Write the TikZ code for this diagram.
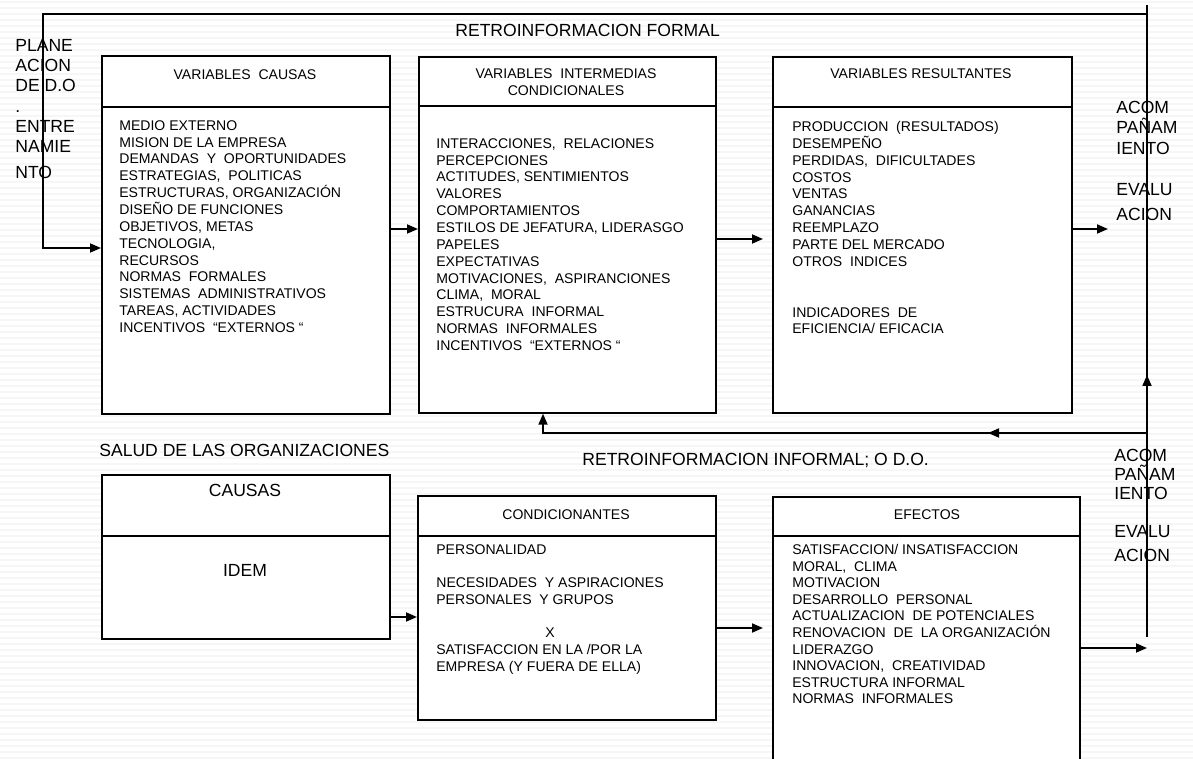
\documentclass[tikz,border=0pt]{standalone}
\usepackage{fontspec}
\setmainfont{Liberation Sans}
\usetikzlibrary{arrows.meta}

\tikzset{
  caja/.style={draw, fill=white, line width=1pt, anchor=north west, inner sep=0pt},
  titulo/.style={font=\fontsize{8}{9.6}\selectfont, align=center, inner sep=0pt},
  lista/.style={font=\fontsize{8}{9.6}\selectfont, align=left, anchor=north west, inner sep=0pt},
  rotulo/.style={font=\fontsize{10}{11.5}\selectfont, align=left, inner sep=0pt},
  flecha/.style={line width=1pt, -{Triangle[length=2.2mm,width=1.8mm]}},
  linea/.style={line width=1pt},
  raya/.style={gray!7, line width=1.1pt}
}

\begin{document}
\begin{tikzpicture}[x=0.02cm,y=-0.02cm]
\useasboundingbox (0,0) rectangle (1193,759);
\clip (0,0) rectangle (1193,759);

% striped background
\fill[white] (0,0) rectangle (1193,759);
\foreach \k in {0,...,126}
  \draw[raya] (0,6*\k+2) -- (1193,6*\k+2);

% side labels
\node[rotulo, anchor=north west] (plan) at (15,39)
  {PLANE\\ACION\\DE D.O\\.\\ENTRE\\NAMIE\\[3.4pt]NTO};
\node[rotulo, anchor=north west, font=\fontsize{10}{11.6}\selectfont] (acomA) at (1116,101)
  {ACOM\\PAÑAM\\IENTO\\[11.6pt]EVALU\\[2.8pt]ACION};
\node[rotulo, anchor=north west, font=\fontsize{10}{10.8}\selectfont] (acomB) at (1114,449)
  {ACOM\\PAÑAM\\IENTO\\[10.8pt]EVALU\\[2.8pt]ACION};
\node[rotulo, anchor=west] (formal) at (455,30) {RETROINFORMACION FORMAL};
\node[rotulo, anchor=west] (informal) at (582,460) {RETROINFORMACION INFORMAL; O D.O.};
\node[rotulo, anchor=west] (salud) at (99,450) {SALUD DE LAS ORGANIZACIONES};

% upper row
\node[caja, minimum width=5.76cm, minimum height=7.16cm] (causas) at (101,55) {};
\node[caja, minimum width=5.94cm, minimum height=7.12cm] (interm) at (418,56) {};
\node[caja, minimum width=5.98cm, minimum height=7.12cm] (result) at (772,56) {};
\draw[linea] (causas.west |- 0,107) -- (causas.east |- 0,107);
\draw[linea] (interm.west |- 0,106) -- (interm.east |- 0,106);
\draw[linea] (result.west |- 0,107) -- (result.east |- 0,107);

\node[titulo] (tCausas) at (245,75) {VARIABLES \ CAUSAS};
\node[titulo] (tInterm) at (566,82) {VARIABLES \ INTERMEDIAS\\CONDICIONALES};
\node[titulo] (tResult) at (921,74) {VARIABLES RESULTANTES};

\node[lista] (lCausas) at (119,120)
  {MEDIO EXTERNO\\MISION DE LA EMPRESA\\DEMANDAS \ Y \ OPORTUNIDADES\\
   ESTRATEGIAS, \ POLITICAS\\ESTRUCTURAS, ORGANIZACIÓN\\DISEÑO DE FUNCIONES\\
   OBJETIVOS, METAS\\TECNOLOGIA,\\RECURSOS\\NORMAS \ FORMALES\\
   SISTEMAS \ ADMINISTRATIVOS\\TAREAS, ACTIVIDADES\\INCENTIVOS \ “EXTERNOS “};
\node[lista] (lInterm) at (436,138)
  {INTERACCIONES, \ RELACIONES\\PERCEPCIONES\\ACTITUDES, SENTIMIENTOS\\
   VALORES\\COMPORTAMIENTOS\\ESTILOS DE JEFATURA, LIDERASGO\\PAPELES\\
   EXPECTATIVAS\\MOTIVACIONES, \ ASPIRANCIONES\\CLIMA, \ MORAL\\
   ESTRUCURA \ INFORMAL\\NORMAS \ INFORMALES\\INCENTIVOS \ “EXTERNOS “};
\node[lista] (lResult) at (792,121)
  {PRODUCCION \ (RESULTADOS)\\DESEMPEÑO\\PERDIDAS, \ DIFICULTADES\\COSTOS\\
   VENTAS\\GANANCIAS\\REEMPLAZO\\PARTE DEL MERCADO\\OTROS \ INDICES\\[19.2pt]
   INDICADORES \ DE\\EFICIENCIA/ EFICACIA};

% lower row
\node[caja, minimum width=5.76cm, minimum height=3.28cm] (causasB) at (101,474) {};
\node[caja, minimum width=5.96cm, minimum height=4.48cm] (condic) at (417,495) {};
\node[caja, minimum width=6.14cm, minimum height=6.4cm] (efectos) at (772,496) {};
\draw[linea] (causasB.west |- 0,536) -- (causasB.east |- 0,536);
\draw[linea] (condic.west |- 0,536) -- (condic.east |- 0,536);
\draw[linea] (efectos.west |- 0,536) -- (efectos.east |- 0,536);

\node[titulo, font=\fontsize{10}{12}\selectfont] (tCausasB) at (245,490) {CAUSAS};
\node[titulo, font=\fontsize{10}{12}\selectfont] (idem) at (245,570) {IDEM};
\node[titulo] (tCondic) at (566,515) {CONDICIONANTES};
\node[titulo] (tEfectos) at (927,515) {EFECTOS};

\node[lista, font=\fontsize{8}{9.5}\selectfont] (lCondic) at (436,544)
  {PERSONALIDAD\\[9.5pt]NECESIDADES \ Y ASPIRACIONES\\PERSONALES \ Y GRUPOS\\[9.5pt]
   \hspace*{2.18cm}X\\SATISFACCION EN LA /POR LA\\EMPRESA (Y FUERA DE ELLA)};
\node[lista, font=\fontsize{8}{9.45}\selectfont] (lEfectos) at (792,544)
  {SATISFACCION/ INSATISFACCION\\MORAL, \ CLIMA\\MOTIVACION\\DESARROLLO \ PERSONAL\\
   ACTUALIZACION \ DE POTENCIALES\\RENOVACION \ DE \ LA ORGANIZACIÓN\\LIDERAZGO\\
   INNOVACION, \ CREATIVIDAD\\ESTRUCTURA INFORMAL\\NORMAS \ INFORMALES};

% feedback lines
\coordinate (retSup) at (1147,5);
\coordinate (retInf) at (1147,637);
\coordinate (lazoD) at (1147,14);
\coordinate (lazoI) at (43,14);
\coordinate (infD) at (1147,433);
\coordinate (infI) at (543,433);
\draw[linea] (retSup) -- (retInf);
\draw[flecha] (lazoD) -- (lazoI) |- (causas.west |- 0,248);
\draw[flecha] (infD) -- (infI) -- (infI |- interm.south);
\draw[flecha] (1022,433) -- (988,433);
\draw[flecha] (1147,413) -- (1147,375);

% flow arrows
\draw[flecha] (causas.east |- 0,229) -- (interm.west |- 0,229);
\draw[flecha, shorten >=0.18cm] (interm.east |- 0,239) -- (result.west |- 0,239);
\draw[flecha] (result.east |- 0,229) -- (1108,229);
\draw[flecha] (causasB.east |- 0,617) -- (condic.west |- 0,617);
\draw[flecha, shorten >=0.18cm] (condic.east |- 0,628) -- (efectos.west |- 0,628);
\draw[flecha] (efectos.east |- 0,648) -- (retInf |- 0,648);
\end{tikzpicture}
\end{document}
